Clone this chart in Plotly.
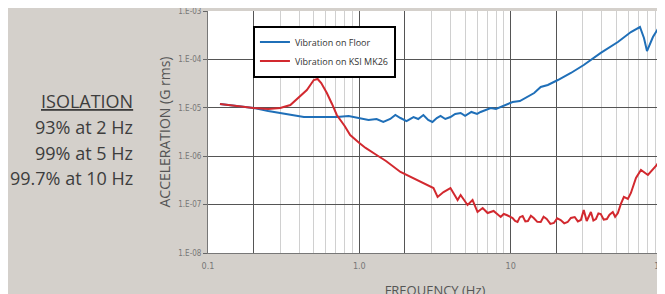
import plotly.graph_objects as go

# Vibration on floor (frequency Hz, acceleration G rms)
floor_freq = [0.12, 0.15, 0.2, 0.25, 0.3, 0.35, 0.43, 0.5, 0.6, 0.71, 0.85, 1.0, 1.15, 1.3, 1.44,
              1.6, 1.73, 1.87, 2.05, 2.28, 2.45, 2.65, 2.85, 3.04, 3.25, 3.44, 3.7, 4.0, 4.3, 4.67,
              5.0, 5.5, 6.0, 6.33, 6.8, 7.38, 8.0, 8.59, 9.3, 10.3, 11.5, 12.97, 14.3, 15.8, 17.6,
              20.5, 25, 30.4, 39.4, 51.1, 62.3, 71.5, 76, 79.6, 87.1, 93, 100]
floor_acc = [1.2e-5, 1.09e-5, 9.9e-6, 8.6e-6, 7.8e-6, 7.1e-6, 6.45e-6, 6.45e-6, 6.45e-6, 6.45e-6,
             6.8e-6, 6.15e-6, 5.6e-6, 5.87e-6, 5.09e-6, 5.87e-6, 7.1e-6, 6.15e-6, 5.33e-6, 6.45e-6,
             5.87e-6, 7.1e-6, 5.6e-6, 5.09e-6, 6.15e-6, 6.8e-6, 5.87e-6, 6.45e-6, 7.45e-6, 7.8e-6,
             6.8e-6, 8.2e-6, 7.45e-6, 8.2e-6, 9.0e-6, 9.9e-6, 9.45e-6, 1.04e-5, 1.14e-5, 1.32e-5,
             1.38e-5, 1.67e-5, 2.02e-5, 2.69e-5, 2.96e-5, 3.75e-5, 5.24e-5, 7.66e-5, 1.36e-4,
             2.29e-4, 3.68e-4, 4.67e-4, 2.77e-4, 1.49e-4, 2.9e-4, 4.05e-4, 5.65e-4]

# Vibration on isolator
iso_freq = [0.12, 0.15, 0.2, 0.25, 0.3, 0.35, 0.39, 0.45, 0.5, 0.53, 0.56, 0.61, 0.66, 0.71, 0.8,
            0.87, 1.0, 1.1, 1.3, 1.5, 1.87, 2.42, 3.09, 3.29, 3.6, 4.0, 4.2, 4.46, 4.67, 5.19, 5.6,
            6.04, 6.53, 7.04, 7.71, 8.2, 8.59, 9.0, 9.4, 10.3, 10.7, 11.1, 11.5, 12.0, 12.5, 13.0,
            13.6, 14.2, 15.0, 15.8, 16.5, 17.3, 18.3, 19.3, 20.3, 21.4, 22.6, 23.8, 25.0, 26.5,
            27.8, 29.1, 30.4, 31.8, 33.0, 33.9, 35.2, 36.6, 38.0, 39.4, 41.2, 43.2, 45.0, 47.3,
            49.0, 51.1, 53.5, 56.0, 59.5, 62.3, 67.3, 72.6, 80.7, 91.2, 100]
iso_acc = [1.2e-5, 1.09e-5, 9.9e-6, 9.45e-6, 9.9e-6, 1.14e-5, 1.52e-5, 2.33e-5, 3.75e-5, 3.94e-5,
           3.25e-5, 2.02e-5, 1.2e-5, 7.1e-6, 4.2e-6, 2.74e-6, 1.87e-6, 1.48e-6, 1.06e-6, 7.96e-7,
           4.72e-7, 3.22e-7, 2.2e-7, 1.44e-7, 1.82e-7, 2.2e-7, 1.74e-7, 1.24e-7, 1.58e-7, 9.8e-8,
           1.24e-7, 7.03e-8, 8.5e-8, 6.7e-8, 7.38e-8, 6.1e-8, 5.54e-8, 6.4e-8, 6.1e-8, 5.28e-8,
           4.6e-8, 4.37e-8, 5.5e-8, 5.81e-8, 4.5e-8, 4.58e-8, 5.9e-8, 5.28e-8, 4.4e-8, 4.37e-8,
           5.6e-8, 5.04e-8, 4.0e-8, 4.17e-8, 5.2e-8, 4.81e-8, 4.1e-8, 4.37e-8, 5.3e-8, 5.54e-8,
           4.5e-8, 4.81e-8, 7.73e-8, 4.58e-8, 6.0e-8, 7.03e-8, 4.7e-8, 5.04e-8, 6.6e-8, 6.39e-8,
           4.9e-8, 5.04e-8, 6.2e-8, 7.03e-8, 5.6e-8, 6.7e-8, 1.03e-7, 1.44e-7, 1.31e-7, 1.74e-7,
           3.55e-7, 5.19e-7, 4.09e-7, 6.28e-7, 9.62e-7]

x_major = [0.1, 0.2, 1, 2, 10, 20, 100]
x_major_text = ["0.1", "", "1.0", "", "10", "", "100"]
x_minor = [0.3, 0.4, 0.5, 0.6, 0.7, 0.8, 0.9, 3, 4, 5, 6, 7, 8, 9, 30, 40, 50, 60, 70, 80, 90]
y_ticks = [1e-8, 1e-7, 1e-6, 1e-5, 1e-4, 1e-3]
y_text = ["1.E-08", "1.E-07", "1.E-06", "1.E-05", "1.E-04", "1.E-03"]

isolation_lines = ["<u>ISOLATION</u>", "93% at 2 Hz", "99% at 5 Hz", "99.7% at 10 Hz"]

fig = go.Figure()
fig.add_trace(go.Scatter(x=floor_freq, y=floor_acc, mode="lines", name="Vibration on Floor",
                         line=dict(color="#1f6fb8", width=2)))
fig.add_trace(go.Scatter(x=iso_freq, y=iso_acc, mode="lines", name="Vibration on KSI MK26",
                         line=dict(color="#d2292f", width=2)))

fig.update_layout(
    width=665, height=294,
    margin=dict(l=200, r=11, t=3, b=49),
    paper_bgcolor="#d4d0cb", plot_bgcolor="white",
    font=dict(family="Open Sans", color="#555"),
    showlegend=True,
    legend=dict(x=0.099, y=0.94, xanchor="left", yanchor="top",
                bgcolor="white", bordercolor="black", borderwidth=2,
                font=dict(size=9, color="#333", family="Open Sans"),
                itemwidth=30, tracegroupgap=0),
    xaxis=dict(type="log", range=[-1, 2], tickvals=x_major, ticktext=x_major_text,
               showgrid=True, gridcolor="#555", gridwidth=1, automargin=False,
               minor=dict(tickvals=x_minor, showgrid=True, gridcolor="#d0d0d0", gridwidth=1),
               tickfont=dict(size=9, color="#777", family="DejaVu Sans Condensed"),
               ticklabeloverflow="allow", ticklabelstandoff=4,
               showline=True, linecolor="#777", linewidth=1, zeroline=False,
               title=dict(text="FREQUENCY (Hz)", font=dict(size=13, color="#555"), standoff=16)),
    yaxis=dict(type="log", range=[-8, -3], tickvals=y_ticks, ticktext=y_text,
               showgrid=True, gridcolor="#555", gridwidth=1, automargin=False,
               ticks="outside", ticklen=4, tickcolor="#666",
               tickfont=dict(size=8, color="#777", family="DejaVu Sans Condensed"),
               ticklabeloverflow="allow",
               showline=True, linecolor="#777", linewidth=1, zeroline=False,
               title=dict(text="ACCELERATION (G rms)", font=dict(size=14, color="#555"), standoff=4)),
)

ys = [0.628, 0.52, 0.413, 0.308]
for txt, yy in zip(isolation_lines, ys):
    fig.add_annotation(text=txt, xref="paper", yref="paper", x=-0.161, y=yy,
                       xanchor="right", yanchor="middle", showarrow=False,
                       font=dict(size=18, color="#3d3d3d", family="Open Sans"))

fig.write_html("out.html")
